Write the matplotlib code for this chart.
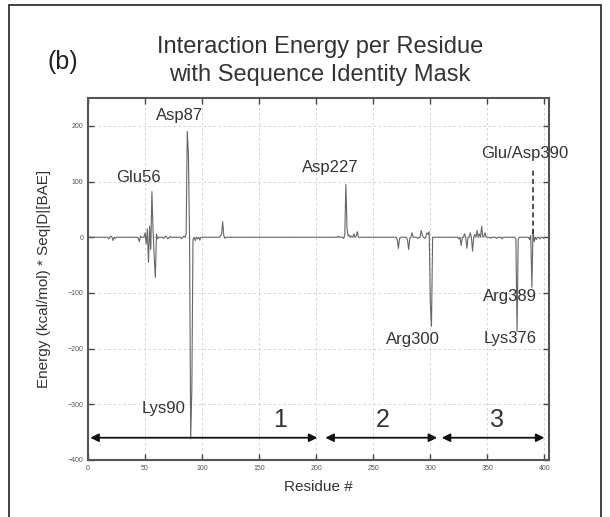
import numpy as np
import matplotlib
matplotlib.use("Agg")
import matplotlib.pyplot as plt
from matplotlib.patches import Rectangle

plt.rcParams['font.family'] = ['Liberation Sans', 'DejaVu Sans']

# residue numbers with non-zero energy and their values (kcal/mol)
residues = [18, 20, 22, 24, 44, 45, 46,
            50, 51, 52, 53, 54, 55, 56, 57, 58, 59, 60, 61,
            66, 68, 70, 72, 82, 84, 86, 87, 88, 89, 90, 91, 92, 94, 96, 98,
            116, 117, 118, 119, 120,
            219, 224, 225, 226, 227, 228, 229, 231, 233, 235, 236,
            271, 272, 273, 280, 281, 282, 284, 289, 292, 293, 295, 297, 298, 299, 300, 301,
            325, 327, 330, 332, 335, 337, 339, 341, 343, 345, 347, 348,
            353, 358, 363, 375, 376, 377, 387, 388, 389, 390, 391, 393, 396, 399]
energies = [-3, 2, -6, -2, -2, -8, 2,
            8, -12, 15, -45, 20, -22, 82, 12, -35, -72, 6, -3,
            -2, 2, -3, 1, -3, 2, 5, 190, 150, -4, -362, -272, -4, -6, -3, -5,
            2, 5, 28, 3, -2,
            2, -2, 3, 95, 15, 2, 4, 2, 6, 2, 10,
            -4, -20, -3, -5, -22, -2, 8, -2, 12, 3, -2, 8, 5, 10, -118, -160,
            -3, -15, 6, -20, 8, -25, 5, 12, 6, 20, 2, 8,
            -2, -2, -3, -4, -170, -3, -4, 3, -90, 15, -8, -4, -3, -2]

labels = ['Glu56', 'Asp87', 'Lys90', 'Asp227', 'Arg300', 'Lys376', 'Arg389', 'Glu/Asp390']
label_x = [44, 80, 66, 212, 285, 370, 370, 383]
label_y = [108, 218, -307, 126, -184, -182, -106, 151]

domains = ['1', '2', '3']
domain_start = [2, 208, 310]
domain_end = [201, 306, 400]
domain_label_x = [168, 258, 358]

x = np.arange(0, 401)
y = np.zeros(len(x))
for r, e in zip(residues, energies):
    y[r] = e

fig = plt.figure(figsize=(6.10, 5.17), dpi=100)
fig.patches.append(Rectangle((9 / 610, -0.05), 592 / 610, 1 - 5 / 517 + 0.05,
                             transform=fig.transFigure, fill=False,
                             edgecolor='#222222', linewidth=1.2))

ax = fig.add_axes([88 / 610, 1 - 460 / 517, 461 / 610, 362 / 517])
ax.plot(x, y, color='#666666', linewidth=0.8)
ax.set_xlim(0, 404)
ax.set_ylim(-400, 250)
ax.set_xticks(np.arange(0, 401, 50))
ax.set_yticks(np.arange(-400, 201, 100))
ax.grid(True, linestyle=(0, (3, 3)), color='#cccccc', linewidth=0.6)
ax.tick_params(direction='in', top=True, right=True, labelsize=5,
               labelcolor='#555555', color='#444444', length=4, width=1)
for s in ax.spines.values():
    s.set_linewidth(1.5)
    s.set_color('#555555')

ax.set_xlabel('Residue #', fontsize=11, color='#333333', labelpad=6)
ax.set_ylabel('Energy (kcal/mol) * Seq|D|[BAE]', fontsize=11, color='#333333', labelpad=12)

for t, lx, ly in zip(labels, label_x, label_y):
    ax.text(lx, ly, t, fontsize=12, color='#333333', ha='center', va='center', clip_on=False)

# dashed marker for Glu/Asp390
ax.plot([390, 390], [5, 125], color='#333333', linestyle=(0, (3, 2)), linewidth=1.2)

for d, a, b, lx in zip(domains, domain_start, domain_end, domain_label_x):
    ax.annotate('', xy=(b, -360), xytext=(a, -360),
                arrowprops=dict(arrowstyle='<|-|>', color='#111111', linewidth=1.3,
                                mutation_scale=12, shrinkA=0, shrinkB=0))
    ax.text(lx, -328, d, fontsize=18, color='#333333', ha='center', va='center')

fig.text(320 / 610, 1 - 47 / 517, 'Interaction Energy per Residue', fontsize=17,
         color='#333333', ha='center', va='center')
fig.text(320 / 610, 1 - 75 / 517, 'with Sequence Identity Mask', fontsize=17,
         color='#333333', ha='center', va='center')
fig.text(63 / 610, 1 - 62 / 517, '(b)', fontsize=18, color='#222222', ha='center', va='center')

fig.savefig('out.png', dpi=100)
